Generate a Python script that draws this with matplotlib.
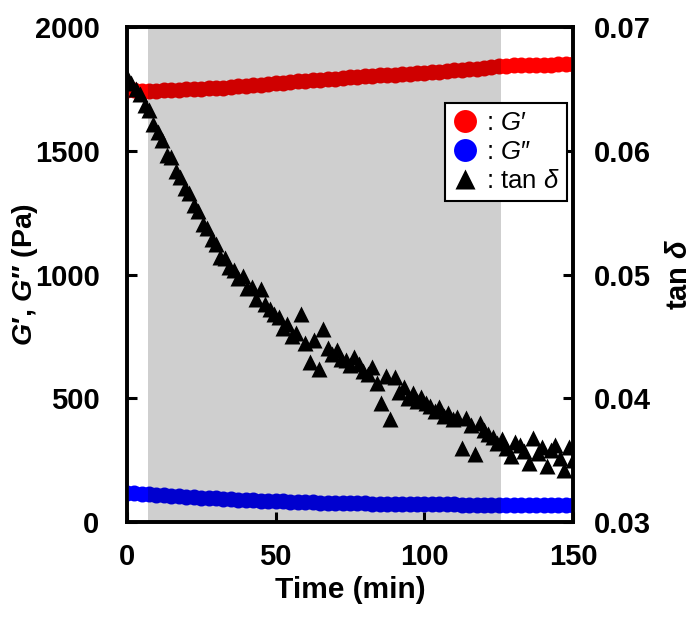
import numpy as np
import matplotlib
matplotlib.use("Agg")
import matplotlib.pyplot as plt
from matplotlib.lines import Line2D

plt.rcParams['font.family'] = ['Liberation Sans', 'DejaVu Sans']
plt.rcParams['mathtext.fontset'] = 'custom'
plt.rcParams['mathtext.it'] = 'Liberation Sans:bold:italic'
plt.rcParams['mathtext.rm'] = 'Liberation Sans:bold'
plt.rcParams['mathtext.sf'] = 'Liberation Sans:italic'

# ---- data ----
time_mod = [0, 2.5, 5, 7.5, 10, 12.5, 15, 17.5, 20, 22.5, 25, 27.5, 30, 32.5, 35, 37.5,
            40, 42.5, 45, 47.5, 50, 52.5, 55, 57.5, 60, 62.5, 65, 67.5, 70, 72.5, 75,
            77.5, 80, 82.5, 85, 87.5, 90, 92.5, 95, 97.5, 100, 102.5, 105, 107.5, 110,
            112.5, 115, 117.5, 120, 122.5, 125, 127.5, 130, 132.5, 135, 137.5, 140,
            142.5, 145, 147.5, 150]
g_storage = [1745, 1744, 1742, 1741, 1742, 1744, 1745, 1746, 1748, 1749, 1750, 1753,
             1756, 1756, 1760, 1762, 1764, 1766, 1768, 1771, 1773, 1776, 1779, 1781,
             1784, 1786, 1788, 1790, 1792, 1794, 1797, 1799, 1801, 1802, 1805, 1807,
             1808, 1810, 1812, 1814, 1815, 1817, 1820, 1822, 1825, 1827, 1830, 1832,
             1835, 1838, 1841, 1844, 1846, 1847, 1848, 1848, 1849, 1849, 1850, 1850, 1850]
g_loss = [117, 116, 114, 113, 111, 109, 106, 104, 102, 100, 98, 96, 95, 93, 92, 90,
          89, 88, 86, 85, 84, 83, 82, 81, 80, 79, 78, 78, 77, 76, 76, 75, 75, 74, 74,
          73, 73, 73, 72, 72, 72, 71, 71, 71, 71, 70, 70, 70, 70, 70, 70, 70, 69, 69,
          69, 69, 69, 68, 68, 68, 68]

time_tan = [0, 1.5, 3, 4.5, 6, 7.5, 9, 10.5, 12, 13.5, 15, 16.5, 18, 19.5, 21, 22.5,
            24, 25.5, 27, 28.5, 30, 31.5, 33, 34.5, 36, 37.5, 39, 40.5, 42, 43.5, 45,
            46.5, 48, 49.5, 51, 52.5, 54, 55.5, 57, 58.5, 60, 61.5, 63, 64.5, 66, 67.5,
            69, 70.5, 72, 73.5, 75, 76.5, 78, 79.5, 81, 82.5, 84, 85.5, 87, 88.5, 90,
            91.5, 93, 94.5, 96, 97.5, 99, 100.5, 102, 103.5, 105, 106.5, 108, 109.5,
            111, 112.5, 114, 115.5, 117, 118.5, 120, 121.5, 123, 124.5, 126, 127.5, 129,
            130.5, 132, 133.5, 135, 136.5, 138, 139.5, 141, 142.5, 144, 145.5, 147,
            148.5, 150]
tan_delta = [0.0660, 0.0655, 0.0650, 0.0646, 0.0637, 0.0633, 0.0622, 0.0615, 0.0609,
             0.0597, 0.0595, 0.0584, 0.0579, 0.0570, 0.0566, 0.0556, 0.0551, 0.0541,
             0.0538, 0.0529, 0.0525, 0.0514, 0.0513, 0.0506, 0.0504, 0.0497, 0.0499,
             0.0489, 0.0490, 0.0480, 0.0488, 0.0476, 0.0472, 0.0468, 0.0466, 0.0457,
             0.0460, 0.0450, 0.0453, 0.0468, 0.0445, 0.0429, 0.0447, 0.0424, 0.0456,
             0.0441, 0.0436, 0.0439, 0.0432, 0.0431, 0.0427, 0.0433, 0.0428, 0.0422,
             0.0420, 0.0425, 0.0412, 0.0396, 0.0418, 0.0383, 0.0417, 0.0405, 0.0409,
             0.0400, 0.0404, 0.0398, 0.0401, 0.0396, 0.0394, 0.0390, 0.0393, 0.0386,
             0.0388, 0.0383, 0.0385, 0.0360, 0.0384, 0.0378, 0.0355, 0.0380, 0.0374,
             0.0371, 0.0369, 0.0364, 0.0367, 0.0360, 0.0353, 0.0365, 0.0362, 0.0357,
             0.0348, 0.0368, 0.0356, 0.0361, 0.0345, 0.0358, 0.0362, 0.0352, 0.0342,
             0.0361, 0.0350]

shade_start, shade_end = 7.1, 125.8
x_ticks = [0, 50, 100, 150]
y_ticks = [0, 500, 1000, 1500, 2000]
y2_ticks = [0.03, 0.04, 0.05, 0.06, 0.07]

# ---- figure ----
fig = plt.figure(figsize=(7.0, 6.17), dpi=100)
ax = fig.add_axes([0.181, 0.154, 0.638, 0.802])
ax2 = ax.twinx()

ax.plot(time_mod, g_storage, 'o', color='#ff0000', ms=11.5, mec='none', zorder=3)
ax.plot(time_mod, g_loss, 'o', color='#0000ff', ms=11.5, mec='none', zorder=3)
ax2.plot(time_tan, tan_delta, '^', color='black', ms=11.5, mec='none', zorder=3)
ax2.axvspan(shade_start, shade_end, color='black', alpha=0.19, lw=0, zorder=4)

ax.set_xlim(0, 150)
ax.set_ylim(0, 2000)
ax2.set_ylim(0.03, 0.07)
ax.set_xticks(x_ticks)
ax.set_yticks(y_ticks)
ax2.set_yticks(y2_ticks)
ax2.set_yticklabels([f"{v:.2f}" for v in y2_ticks])

for a in (ax, ax2):
    for s in a.spines.values():
        s.set_linewidth(2.6)
    a.tick_params(direction='in', length=7, width=2.2, labelsize=21)
    for lab in a.get_xticklabels() + a.get_yticklabels():
        lab.set_fontweight('bold')
ax.tick_params(axis='x', pad=15)
ax.tick_params(axis='y', pad=19.5)
ax2.tick_params(axis='y', pad=15)

ax.set_xlabel("Time (min)", fontsize=21.5, fontweight='bold', labelpad=4)
ax.set_ylabel(r"$G$′, $G$″ (Pa)", fontsize=20.5, fontweight='bold')
ax.yaxis.set_label_coords(-0.195, 0.5)
ax2.set_ylabel(r"tan $\delta$", fontsize=21, fontweight='bold')
ax2.yaxis.set_label_coords(1.205, 0.5)

handles = [Line2D([], [], ls='none', marker='o', color='#ff0000', ms=16.5, mec='none'),
           Line2D([], [], ls='none', marker='o', color='#0000ff', ms=16.5, mec='none'),
           Line2D([], [], ls='none', marker='^', color='black', ms=15, mec='none')]
labels = [r": $\mathsf{G}$′", r": $\mathsf{G}$″", r": tan $\mathsf{\delta}$"]
leg = ax2.legend(handles, labels, loc='upper right', bbox_to_anchor=(0.9865, 0.846),
                 fontsize=18.5, frameon=True, fancybox=False, edgecolor='black',
                 framealpha=1, handlelength=1.0, handletextpad=0.3,
                 labelspacing=0.2, borderpad=0.3, borderaxespad=0)
leg.get_frame().set_linewidth(1.5)
leg.set_zorder(10)

fig.savefig("out.png", dpi=100)
